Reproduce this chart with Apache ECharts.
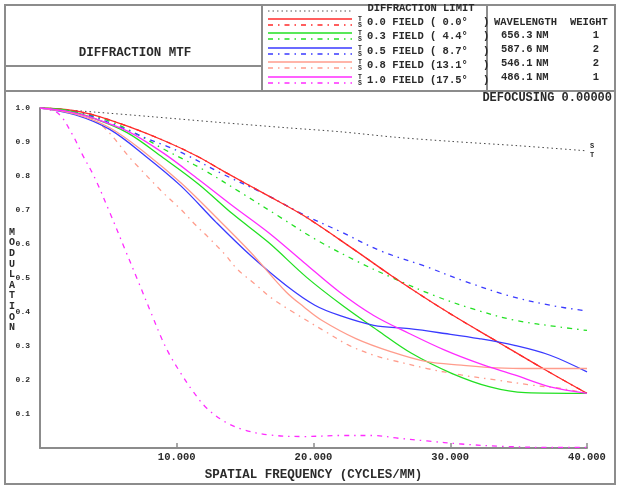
<!DOCTYPE html>
<html><head><meta charset="utf-8">
<script src="https://cdn.jsdelivr.net/npm/echarts@6/dist/echarts.min.js"></script>
<style>html,body{margin:0;padding:0;background:#fff}#c{width:619px;height:486px}</style>
</head><body><div id="c"></div>
<script>
// ---- data (spatial frequency cycles/mm, modulation) ----
const diffLimit = [[0,1.0],[4,0.988],[8,0.975],[13,0.958],[18,0.942],[22,0.930],[26,0.914],[30,0.902],[35,0.889],[40,0.874]];
const f00T = [[0,1.0],[2,0.995],[3.9,0.98],[6.5,0.945],[9.3,0.90],[11.5,0.858],[13.6,0.81],[16.5,0.746],[19.3,0.683],[23.1,0.58],[25.7,0.507],[29.8,0.40],[33.7,0.307],[37,0.229],[40,0.161]];
const f00S = [[0,1.0],[2,0.995],[3.9,0.98],[6.5,0.945],[9.3,0.90],[11.5,0.858],[13.6,0.81],[16.5,0.746],[19.3,0.683],[23.1,0.58],[25.7,0.507],[29.8,0.40],[33.7,0.307],[37,0.229],[40,0.161]];
const f03T = [[0,1.0],[2,0.993],[3.9,0.97],[6.4,0.927],[9,0.854],[11.6,0.776],[14.1,0.688],[16.7,0.605],[19.5,0.502],[22.1,0.42],[24.7,0.346],[27.2,0.278],[30.1,0.22],[32.9,0.18],[35.5,0.163],[40,0.161]];
const f03S = [[0,1.0],[2.5,0.99],[5.1,0.961],[7,0.925],[9.1,0.878],[10.5,0.849],[12.1,0.815],[14.7,0.751],[17.4,0.683],[20.1,0.615],[23.1,0.551],[25.7,0.502],[28.8,0.449],[31.6,0.41],[34.7,0.376],[38,0.356],[40,0.346]];
const f05T = [[0,1.0],[2.6,0.98],[5.1,0.937],[7.7,0.859],[10.3,0.771],[12.9,0.663],[15.4,0.566],[18,0.478],[20.1,0.42],[21.9,0.39],[24.4,0.361],[27,0.351],[29.6,0.337],[32.1,0.322],[34.7,0.302],[37.3,0.273],[40,0.224]];
const f05S = [[0,1.0],[3,0.985],[6.3,0.937],[7.7,0.912],[9.25,0.888],[10.8,0.86],[13.4,0.805],[16.5,0.746],[19.2,0.688],[22.1,0.634],[24.9,0.58],[28,0.537],[31.1,0.49],[34.2,0.449],[37.3,0.42],[40,0.403]];
const f08T = [[0,1.0],[2.6,0.982],[5.1,0.942],[7.7,0.868],[10.3,0.78],[12.9,0.678],[15.4,0.576],[18,0.459],[19.3,0.415],[20.6,0.376],[23.1,0.322],[25.7,0.283],[28.3,0.254],[30.8,0.244],[33.4,0.236],[36,0.234],[40,0.234]];
const f08S = [[0,1.0],[3.9,0.966],[6.9,0.839],[9,0.751],[10.3,0.702],[11.3,0.659],[12.3,0.62],[13.6,0.566],[14.4,0.527],[15.7,0.483],[17,0.439],[18.5,0.4],[21.1,0.337],[22.6,0.302],[24.4,0.273],[25.7,0.259],[28.3,0.234],[30.8,0.215],[33.4,0.2],[36,0.185],[38,0.176],[40,0.161]];
const f10T = [[0,1.0],[2,0.99],[3.9,0.97],[6.4,0.932],[9,0.868],[11.6,0.79],[14.1,0.712],[16.7,0.634],[19.3,0.546],[21.9,0.459],[24.4,0.39],[27,0.337],[29.6,0.288],[32.1,0.249],[34.7,0.215],[37.3,0.18],[40,0.161]];
const f10S = [[0,1.0],[1.3,0.985],[2.3,0.927],[3.1,0.863],[4,0.795],[5.1,0.693],[6.3,0.576],[7.1,0.498],[8.2,0.39],[8.9,0.322],[9.5,0.273],[10.3,0.22],[11.2,0.166],[12.2,0.117],[13.5,0.078],[14.9,0.054],[16.7,0.039],[19.3,0.034],[21.9,0.037],[24.4,0.037],[26.2,0.029],[28.3,0.021],[30.8,0.012],[33.9,0.005],[37.3,0.002],[40,0.002]];

const xTicks = [10, 20, 30, 40];
const fieldLabels = ['0.0 FIELD ( 0.0\u00B0', '0.3 FIELD ( 4.4\u00B0', '0.5 FIELD ( 8.7\u00B0', '0.8 FIELD (13.1\u00B0', '1.0 FIELD (17.5\u00B0'];
const wavelengths = ['656.3', '587.6', '546.1', '486.1'];
const weights = ['1', '2', '2', '1'];

// ---- styles ----
const fieldColors = ['#ff2a2a', '#22e022', '#3a3aff', '#ff9c8c', '#ff2cff'];
const FONT = '"Liberation Mono", "DejaVu Sans Mono", monospace';
const TXT = '#2a2a2a';
const FRAME = '#8c8c8c';
const dashS = [5, 5, 1.5, 5];

const fieldData = [[f00T, f00S], [f03T, f03S], [f05T, f05S], [f08T, f08S], [f10T, f10S]];

const series = [{
  type: 'line', data: diffLimit, symbol: 'none', smooth: 0.3,
  lineStyle: { color: '#444', width: 1, type: [1.5, 3] },
  endLabel: { show: true, formatter: 'S\nT', fontSize: 7, lineHeight: 9, color: TXT, fontFamily: FONT, fontWeight: 'bold', distance: 3 },
  z: 1
}];
fieldData.forEach((pair, i) => {
  series.push({ type: 'line', data: pair[0], symbol: 'none', smooth: 0.35,
    lineStyle: { color: fieldColors[i], width: 1.3 }, z: 3 });
  series.push({ type: 'line', data: pair[1], symbol: 'none', smooth: 0.35,
    lineStyle: { color: fieldColors[i], width: 1.3, type: dashS }, z: 2 });
});

// ---- frame / header decoration ----
const graphic = [];
const L = (x1, y1, x2, y2, color, w, dash) => graphic.push({ type: 'line', silent: true,
  shape: { x1, y1, x2, y2 }, style: { stroke: color, lineWidth: w, lineDash: dash || null } });
const T = (text, x, y, size, align, lh) => graphic.push({ type: 'text', silent: true,
  style: { text, x, y, fill: TXT, font: 'bold ' + size + 'px ' + FONT, textAlign: align || 'left', textVerticalAlign: 'middle', lineHeight: lh || undefined } });

graphic.push({ type: 'rect', silent: true, shape: { x: 5, y: 5, width: 610, height: 479 }, style: { fill: 'none', stroke: FRAME, lineWidth: 2 } });
L(5, 91, 615, 91, FRAME, 2);
L(5, 66, 262, 66, FRAME, 2);
L(262, 5, 262, 91, FRAME, 2);
L(487, 5, 487, 91, FRAME, 2);

T('DIFFRACTION MTF', 135, 53, 12.5, 'center');
T('DIFFRACTION LIMIT', 421, 8, 10.5, 'center');
L(268, 11, 352, 11, '#555', 1, [1.5, 3]);
const rowY = [19, 33, 48, 62, 77];
fieldLabels.forEach((lab, i) => {
  const y = rowY[i];
  L(268, y, 352, y, fieldColors[i], 1.3);
  L(268, y + 6, 352, y + 6, fieldColors[i], 1.3, dashS);
  T('T', 360, y, 6.5, 'center');
  T('S', 360, y + 6, 6.5, 'center');
  T(lab, 367, y + 3.5, 10.5);
  T(')', 483, y + 3.5, 10.5);
});
T('WAVELENGTH', 494, 22, 10.5);
T('WEIGHT', 570, 22, 10.5);
wavelengths.forEach((w, i) => {
  const y = 35 + i * 14;
  T(w, 501, y, 10.5);
  T('NM', 536, y, 10.5);
  T(weights[i], 596, y, 10.5, 'center');
});
T('DEFOCUSING 0.00000', 612, 98, 12, 'right');
T('M\nO\nD\nU\nL\nA\nT\nI\nO\nN', 12, 280, 10, 'center', 10.6);

const option = {
  animation: false,
  backgroundColor: '#fff',
  grid: { left: 40, right: 32, top: 108, bottom: 35 },
  xAxis: {
    type: 'value', min: 0, max: 40, interval: 10,
    axisLine: { show: true, lineStyle: { color: FRAME, width: 2 } },
    axisTick: { show: true, inside: true, length: 5, lineStyle: { color: FRAME, width: 1.5 } },
    axisLabel: { color: TXT, fontFamily: FONT, fontWeight: 'bold', fontSize: 10.5, margin: 4,
      formatter: v => xTicks.includes(v) ? v.toFixed(3) : '' },
    splitLine: { show: false },
    name: 'SPATIAL FREQUENCY (CYCLES/MM)', nameLocation: 'middle', nameGap: 19,
    nameTextStyle: { color: TXT, fontFamily: FONT, fontWeight: 'bold', fontSize: 12.5 }
  },
  yAxis: {
    type: 'value', min: 0, max: 1, interval: 0.1,
    axisLine: { show: true, lineStyle: { color: FRAME, width: 2 } },
    axisTick: { show: false },
    axisLabel: { color: TXT, fontFamily: FONT, fontWeight: 'bold', fontSize: 8, margin: 10,
      formatter: v => v === 0 ? '' : v.toFixed(1) },
    splitLine: { show: false }
  },
  series,
  graphic
};
echarts.init(document.getElementById('c'), null, { renderer: 'canvas' }).setOption(option);
</script></body></html>
